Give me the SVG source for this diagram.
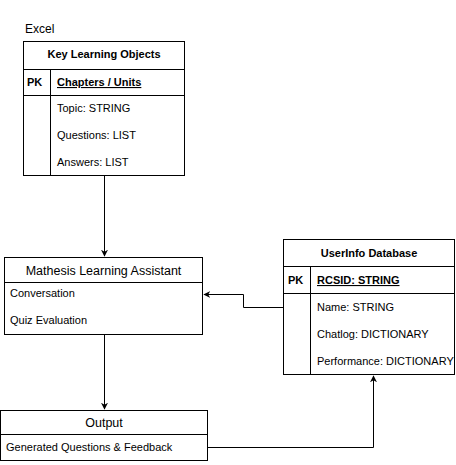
<svg xmlns="http://www.w3.org/2000/svg" width="456" height="465" viewBox="0 0 456 465">
<style>
  .box{fill:#fff;stroke:#000;stroke-width:1}
  .ln{fill:none;stroke:#000;stroke-width:1}
  .t{font-family:"Liberation Sans",Arial,sans-serif;font-size:11px;fill:#000}
  .b{font-weight:bold}
  .u{text-decoration:underline}
  .h{font-family:"Liberation Sans",Arial,sans-serif;font-size:12.5px;fill:#000}
</style>
<defs>
  <marker id="ah" viewBox="0 0 10 10" refX="9" refY="5" markerWidth="7" markerHeight="7" orient="auto" markerUnits="userSpaceOnUse">
    <path d="M0,0 L10,5 L0,10 L3,5 Z" fill="#000"/>
  </marker>
</defs>
<rect width="456" height="465" fill="#fff"/>
<text x="25" y="33" class="h" style="font-size:12px">Excel</text>
<g id="klo">
  <rect class="box" x="23.5" y="41.5" width="161" height="134"/>
  <line class="ln" x1="23.5" y1="69.5" x2="184.5" y2="69.5"/>
  <line class="ln" x1="23.5" y1="95.5" x2="184.5" y2="95.5"/>
  <line class="ln" x1="50.5" y1="69.5" x2="50.5" y2="175.5"/>
  <text x="104" y="58" text-anchor="middle" class="t b">Key Learning Objects</text>
  <text x="27" y="86" class="t b">PK</text>
  <text x="57" y="86" class="t b u">Chapters / Units</text>
  <text x="57" y="112" class="t">Topic: STRING</text>
  <text x="57" y="139" class="t">Questions: LIST</text>
  <text x="57" y="166" class="t">Answers: LIST</text>
</g>
<g id="mathesis">
  <rect class="box" x="4.5" y="257.5" width="198" height="77"/>
  <line class="ln" x1="4.5" y1="282.5" x2="202.5" y2="282.5"/>
  <text x="103.5" y="275" text-anchor="middle" class="h">Mathesis Learning Assistant</text>
  <text x="10" y="297" class="t">Conversation</text>
  <text x="10" y="324" class="t">Quiz Evaluation</text>
</g>
<g id="userinfo">
  <rect class="box" x="283.5" y="239.5" width="171" height="135"/>
  <line class="ln" x1="283.5" y1="266.5" x2="454.5" y2="266.5"/>
  <line class="ln" x1="283.5" y1="293.5" x2="454.5" y2="293.5"/>
  <line class="ln" x1="310.5" y1="266.5" x2="310.5" y2="374.5"/>
  <text x="369" y="257" text-anchor="middle" class="t b">UserInfo Database</text>
  <text x="288" y="284" class="t b">PK</text>
  <text x="317" y="284" class="t b u">RCSID: STRING</text>
  <text x="317" y="311" class="t">Name: STRING</text>
  <text x="317" y="338" class="t">Chatlog: DICTIONARY</text>
  <text x="317" y="365" class="t">Performance: DICTIONARY</text>
</g>
<g id="output">
  <rect class="box" x="0.5" y="410.5" width="207" height="50"/>
  <line class="ln" x1="0.5" y1="434.5" x2="207.5" y2="434.5"/>
  <text x="104" y="427" text-anchor="middle" class="h">Output</text>
  <text x="6" y="451" class="t">Generated Questions &amp; Feedback</text>
</g>
<g id="connectors">
  <path class="ln" d="M104.5,176 V256" marker-end="url(#ah)"/>
  <path class="ln" d="M104.5,335 V409" marker-end="url(#ah)"/>
  <path class="ln" d="M283,307.5 H243.5 V294.5 H204" marker-end="url(#ah)"/>
  <path class="ln" d="M208,447.5 H373.5 V376" marker-end="url(#ah)"/>
</g>
</svg>
